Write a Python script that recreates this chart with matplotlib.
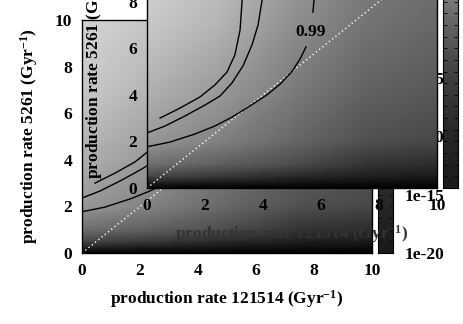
import numpy as np
import matplotlib
matplotlib.use("Agg")
import matplotlib.pyplot as plt
from matplotlib.colors import LinearSegmentedColormap, Normalize

plt.rcParams['font.family'] = ['Liberation Serif', 'DejaVu Serif']
plt.rcParams['font.weight'] = 'bold'
plt.rcParams['axes.labelweight'] = 'bold'
plt.rcParams['mathtext.fontset'] = 'custom'
plt.rcParams['mathtext.rm'] = 'Liberation Serif:bold'
plt.rcParams['mathtext.bf'] = 'Liberation Serif:bold'
plt.rcParams['mathtext.default'] = 'bf'

# grid of the map (log10 of the probability)
rate_121514 = [0, 2.5, 5, 7.5, 10]
rate_5261 = [0, 0.25, 0.5, 1, 2, 4, 7, 10]
log_prob = [
    [-30, -30, -30, -30, -30],
    [-16.7, -19.2, -22, -24, -25],
    [-9.7, -12, -15, -18.3, -20],
    [-4.8, -6.6, -8.8, -13, -14.5],
    [-1.9, -3.5, -5.6, -8.4, -9.4],
    [-1.2, -1.9, -3.9, -6.3, -7.5],
    [-0.5, -1.1, -2.4, -4.4, -5.6],
    [-0.2, -0.7, -1.7, -3.5, -4.4],
]

# contour lines
cont_a_x = [0.45, 1.14, 1.83, 2.34, 2.76, 3.03, 3.21, 3.28, 3.31]
cont_a_y = [3.0, 3.43, 3.91, 4.42, 4.98, 5.71, 6.78, 8.07, 10]
cont_b_x = [0, 0.62, 1.31, 2.0, 2.52, 2.93, 3.31, 3.62, 3.83, 3.97, 4.03]
cont_b_y = [2.36, 2.66, 3.09, 3.56, 3.95, 4.51, 5.24, 6.14, 7.0, 8.07, 10]
cont_c_x = [0, 0.79, 1.66, 2.34, 2.93, 3.55, 4.14, 4.59, 5.0, 5.28, 5.48]
cont_c_y = [1.77, 1.97, 2.32, 2.66, 3.04, 3.52, 4.0, 4.46, 5.0, 5.54, 6.05]
cont_c2_x = [5.72, 5.76, 5.83]
cont_c2_y = [7.55, 8.07, 10]
label_099 = (5.65, 6.7)

# colour bar (log10), labelled every 5 decades, top not labelled
cb_ticks = [-20, -15, -10, -5]
cb_labels = ['1e-20', '1e-15', '1e-10', '1e-5']

cmap = LinearSegmentedColormap.from_list('gp', [
    (0.0, '#000000'), (10/30, '#1a1a1a'), (15/30, '#292929'),
    (20/30, '#424242'), (25/30, '#6b6b6b'), (28/30, '#949494'),
    (1.0, '#d9d9d9')])
norm = Normalize(vmin=-30, vmax=0)

fig = plt.figure(figsize=(4.63, 3.24), dpi=100)
W, H = 463, 324
FS = 12.5


def box(l, t, r, b):
    return [l / W, (H - b) / H, (r - l) / W, (b - t) / H]


def draw_panel(ax, cax, xlab_color='black'):
    ax.pcolormesh(rate_121514, rate_5261, np.array(log_prob), cmap=cmap,
                  norm=norm, shading='gouraud', rasterized=True)
    ax.plot([0, 10], [0, 10], color='white', lw=1, ls=(0, (1, 2)))
    for cx, cy in [(cont_a_x, cont_a_y), (cont_b_x, cont_b_y),
                   (cont_c_x, cont_c_y), (cont_c2_x, cont_c2_y)]:
        ax.plot(cx, cy, color='black', lw=1, solid_joinstyle='round')
    ax.text(label_099[0], label_099[1], '0.99', fontsize=FS, ha='center',
            va='center', fontweight='bold')
    ax.set_xlim(0, 10)
    ax.set_ylim(0, 10)
    ax.set_xticks([0, 2, 4, 6, 8, 10])
    ax.set_yticks([0, 2, 4, 6, 8, 10])
    ax.tick_params(length=0, labelsize=FS, pad=7)
    ax.set_xlabel('production rate 121514 (Gyr$^{-1}$)', fontsize=FS,
                  color=xlab_color, fontweight='bold')
    ax.set_ylabel('production rate 5261 (Gyr$^{-1}$)', fontsize=FS,
                  fontweight='bold')
    ax.xaxis.set_label_coords(0.5, -0.15)
    ax.yaxis.set_label_coords(-0.145, 0.5)
    ax.patch.set_alpha(0)
    for s in ax.spines.values():
        s.set_linewidth(1)

    # colour bar, log scale from 1e-20 to 1e0, labels right aligned
    cax.imshow(np.linspace(0, -20, 200).reshape(-1, 1), cmap=cmap, norm=norm,
               aspect='auto', extent=[0, 1, -20, 0])
    cax.set_ylim(-20, 0)
    cax.set_xticks([])
    cax.yaxis.tick_right()
    cax.set_yticks(cb_ticks)
    cax.set_yticklabels(cb_labels, ha='right')
    cax.set_yticks(range(-20, 1), minor=True)
    cax.tick_params(axis='y', which='both', direction='in', left=True,
                    right=True, length=3, labelsize=FS, pad=37, width=0.6)


ax1 = fig.add_axes(box(82, 20, 372, 253))
cb1 = fig.add_axes(box(378, 20, 393, 253))
draw_panel(ax1, cb1)

ax2 = fig.add_axes(box(147, -45, 437, 188))
cb2 = fig.add_axes(box(443, -45, 458, 188))
draw_panel(ax2, cb2, xlab_color='#333333')

fig.savefig('out.png', dpi=100)
